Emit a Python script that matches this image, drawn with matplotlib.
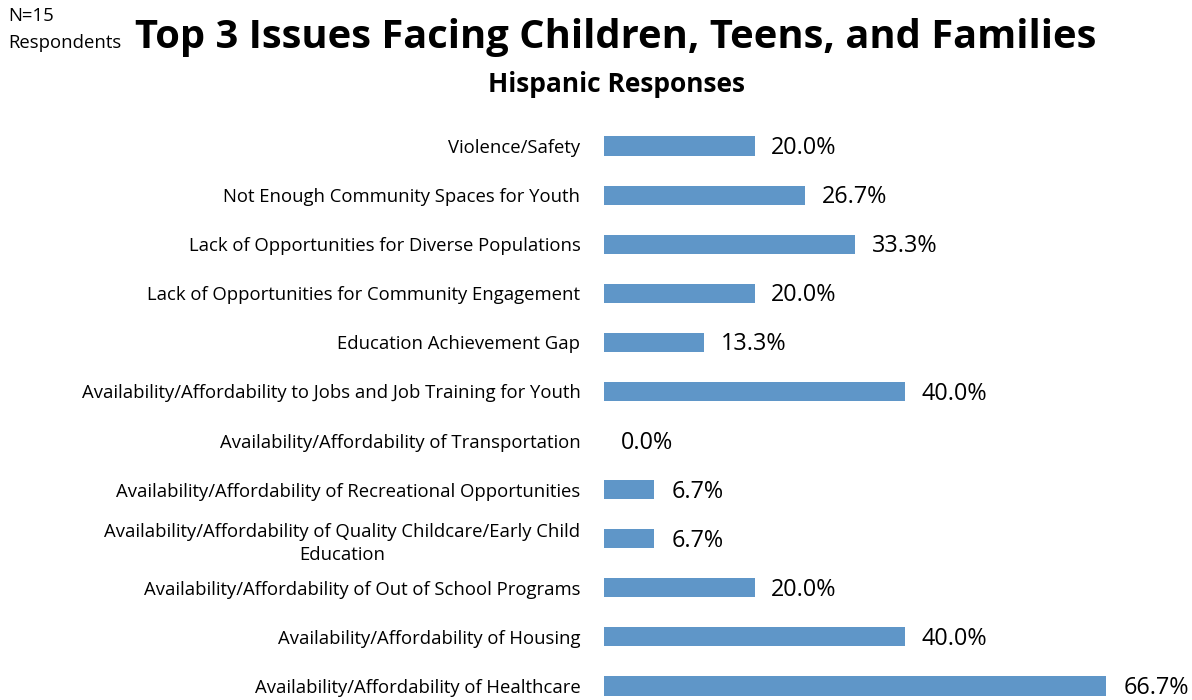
import matplotlib
matplotlib.use("Agg")
import matplotlib.pyplot as plt

categories = [
    "Violence/Safety",
    "Not Enough Community Spaces for Youth",
    "Lack of Opportunities for Diverse Populations",
    "Lack of Opportunities for Community Engagement",
    "Education Achievement Gap",
    "Availability/Affordability to Jobs and Job Training for Youth",
    "Availability/Affordability of Transportation",
    "Availability/Affordability of Recreational Opportunities",
    "Availability/Affordability of Quality Childcare/Early Child\nEducation",
    "Availability/Affordability of Out of School Programs",
    "Availability/Affordability of Housing",
    "Availability/Affordability of Healthcare",
]
values = [20.0, 26.7, 33.3, 20.0, 13.3, 40.0, 0.0, 6.7, 6.7, 20.0, 40.0, 66.7]

title = "Top 3 Issues Facing Children, Teens, and Families"
subtitle = "Hispanic Responses"
note = "N=15\nRespondents"

plt.rcParams['font.family'] = ['Open Sans', 'DejaVu Sans']

W, H = 1192, 700
fig = plt.figure(figsize=(W / 100, H / 100), dpi=100)

ax = fig.add_axes([604 / W, 0.0, 565 / W, 0.8264])
ypos = list(range(len(categories)))
ax.barh(ypos, values, height=0.39, color="#5F96C8", edgecolor="none")
ax.set_xlim(0, 75)
ax.set_ylim(11.285, -0.5)
ax.set_yticks(ypos)
ax.set_yticklabels(categories, fontsize=13.3, multialignment='center', linespacing=1.35)
ax.tick_params(axis='y', length=0, pad=17)
ax.set_xticks([])
for s in ax.spines.values():
    s.set_visible(False)

for y, v in zip(ypos, values):
    ax.annotate(f"{v:.1f}%", xy=(v, y), xytext=(12, -1.5), textcoords='offset points',
                ha='left', va='center', fontsize=16.8, color='black')

fig.text(616 / W, 0.946, title, ha='center', va='center', fontsize=28.7, fontweight='bold')
fig.text(616 / W, 0.880, subtitle, ha='center', va='center', fontsize=19, fontweight='bold')
fig.text(8 / W, 0.958, note, ha='left', va='center', fontsize=13.3, linespacing=1.6)

fig.savefig("out.png", dpi=100)
